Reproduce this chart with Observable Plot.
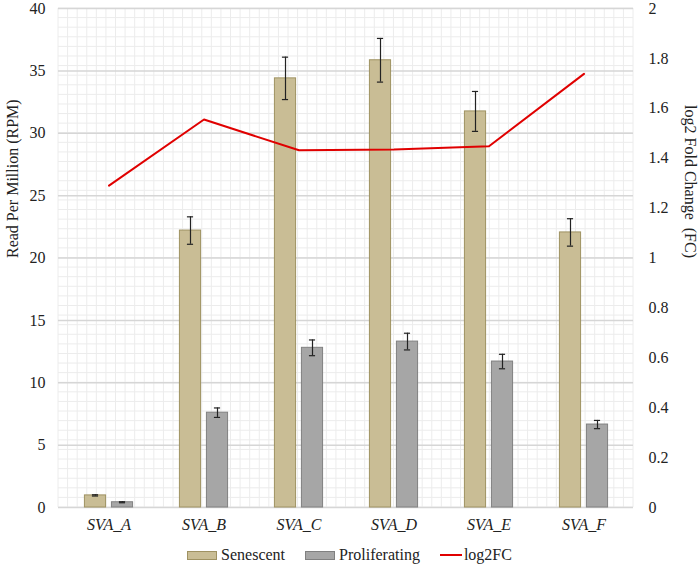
<!DOCTYPE html>
<html>
<head>
<meta charset="utf-8">
<script src="https://cdn.jsdelivr.net/npm/d3@7"></script>
<script src="https://cdn.jsdelivr.net/npm/@observablehq/plot@0.6"></script>
<style>
  body { margin: 0; background: #fff; }
  #wrap { width: 699px; font-family: "Liberation Serif", "DejaVu Serif", serif; }
  .legend { display: flex; justify-content: center; align-items: center; height: 30px; font-size: 16px; color: #222; }
  .item { display: flex; align-items: center; margin: 0 10px; }
  .sw { width: 30px; height: 9px; margin-right: 4px; box-sizing: border-box; }
  .ln { width: 22px; height: 2px; background: #E00000; margin-right: 2px; }
</style>
</head>
<body>
<div id="wrap"></div>
<script>
const categories = ["SVA_A", "SVA_B", "SVA_C", "SVA_D", "SVA_E", "SVA_F"];
const senescent = [0.97, 22.2, 34.4, 35.85, 31.75, 22.05];
const senescentErr = [0.05, 1.1, 1.7, 1.75, 1.6, 1.1];
const proliferating = [0.42, 7.6, 12.8, 13.3, 11.7, 6.65];
const proliferatingErr = [0.04, 0.38, 0.63, 0.67, 0.58, 0.33];
const log2FC = [1.29, 1.555, 1.432, 1.435, 1.448, 1.738];
const leftTicks = [0, 5, 10, 15, 20, 25, 30, 35, 40];
const rightTicks = [0, 0.2, 0.4, 0.6, 0.8, 1, 1.2, 1.4, 1.6, 1.8, 2];
const rightMax = 2, leftMax = 40;
const toLeft = v => v * leftMax / rightMax;

const data = categories.map((c, i) => ({
  cat: c,
  sen: senescent[i], senErr: senescentErr[i],
  pro: proliferating[i], proErr: proliferatingErr[i],
  fc: log2FC[i]
}));

const FONT = "'Liberation Serif', 'DejaVu Serif', serif";
const W = 699, H = 540;
const mL = 58, mR = 66, mT = 8, mB = 33;
const band = (W - mL - mR) / categories.length;
const barW = 22, gap = 5, cap = 3.5;
const off = (barW + gap) / 2;
const senC = band / 2 - off, proC = band / 2 + off;

function bgGrid(...args) {
  const dims = args.find(a => a && typeof a === "object" && "marginLeft" in a && "width" in a);
  const g = d3.create("svg:g").attr("stroke", "#ececec").attr("stroke-width", 1);
  const x0 = dims.marginLeft, x1 = dims.width - dims.marginRight;
  const y0 = dims.marginTop, y1 = dims.height - dims.marginBottom;
  const nx = 60, ny = 52;
  for (let i = 0; i <= nx; i++) {
    const x = x0 + (x1 - x0) * i / nx;
    g.append("line").attr("x1", x).attr("x2", x).attr("y1", y0).attr("y2", y1);
  }
  for (let j = 0; j <= ny; j++) {
    const y = y0 + (y1 - y0) * j / ny;
    g.append("line").attr("x1", x0).attr("x2", x1).attr("y1", y).attr("y2", y);
  }
  return g.node();
}

const fmt = d => String(+d.toFixed(1));

const chart = Plot.plot({
  width: W, height: H,
  marginLeft: mL, marginRight: mR, marginTop: mT, marginBottom: mB,
  style: { fontFamily: FONT, fontSize: "16px", color: "#222", background: "#fff" },
  x: { domain: categories, padding: 0, axis: null },
  y: { domain: [0, leftMax], axis: null },
  marks: [
    bgGrid,
    Plot.ruleY(leftTicks, { stroke: "#d6d6d6", strokeWidth: 1.5 }),
    Plot.barY(data, { x: "cat", y: "sen", fill: "#C9BD95", stroke: "#9F9262", strokeWidth: 1,
      insetLeft: senC - barW / 2, insetRight: band - senC - barW / 2 }),
    Plot.barY(data, { x: "cat", y: "pro", fill: "#A6A6A6", stroke: "#808080", strokeWidth: 1,
      insetLeft: proC - barW / 2, insetRight: band - proC - barW / 2 }),
    Plot.ruleX(data, { x: "cat", y1: d => d.sen - d.senErr, y2: d => d.sen + d.senErr, dx: -off, stroke: "#222", strokeWidth: 1.2 }),
    Plot.ruleX(data, { x: "cat", y1: d => d.pro - d.proErr, y2: d => d.pro + d.proErr, dx: off, stroke: "#222", strokeWidth: 1.2 }),
    Plot.tickY(data, { x: "cat", y: d => d.sen - d.senErr, insetLeft: senC - cap, insetRight: band - senC - cap, stroke: "#222", strokeWidth: 1.2 }),
    Plot.tickY(data, { x: "cat", y: d => d.sen + d.senErr, insetLeft: senC - cap, insetRight: band - senC - cap, stroke: "#222", strokeWidth: 1.2 }),
    Plot.tickY(data, { x: "cat", y: d => d.pro - d.proErr, insetLeft: proC - cap, insetRight: band - proC - cap, stroke: "#222", strokeWidth: 1.2 }),
    Plot.tickY(data, { x: "cat", y: d => d.pro + d.proErr, insetLeft: proC - cap, insetRight: band - proC - cap, stroke: "#222", strokeWidth: 1.2 }),
    Plot.line(data, { x: "cat", y: d => toLeft(d.fc), stroke: "#E00000", strokeWidth: 2 }),
    Plot.axisX({ tickSize: 0, tickPadding: 11, fontStyle: "italic", fontSize: 16, fontFamily: FONT, label: null }),
    Plot.axisY(leftTicks, { anchor: "left", tickSize: 0, tickPadding: 13, label: null, fontSize: 16, fontFamily: FONT }),
    Plot.axisY(rightTicks.map(toLeft), { anchor: "right", tickSize: 0, tickPadding: 15, label: null, fontSize: 16, fontFamily: FONT, tickFormat: d => fmt(d * rightMax / leftMax) }),
    Plot.text(["Read Per Million (RPM)"], { frameAnchor: "left", dx: -46, rotate: -90, fontSize: 16, fontFamily: FONT, fill: "#222" }),
    Plot.text(["log2 Fold Change\u00a0\u00a0(FC)"], { frameAnchor: "right", dx: 57, rotate: 90, fontSize: 16, fontFamily: FONT, fill: "#222" })
  ]
});

const wrap = document.getElementById("wrap");
wrap.appendChild(chart);

const legend = document.createElement("div");
legend.className = "legend";
legend.innerHTML = `
  <div class="item"><div class="sw" style="background:#C9BD95;border:1px solid #9F9262"></div>Senescent</div>
  <div class="item"><div class="sw" style="background:#A6A6A6;border:1px solid #808080"></div>Proliferating</div>
  <div class="item"><div class="ln"></div>log2FC</div>`;
wrap.appendChild(legend);
</script>
</body>
</html>
